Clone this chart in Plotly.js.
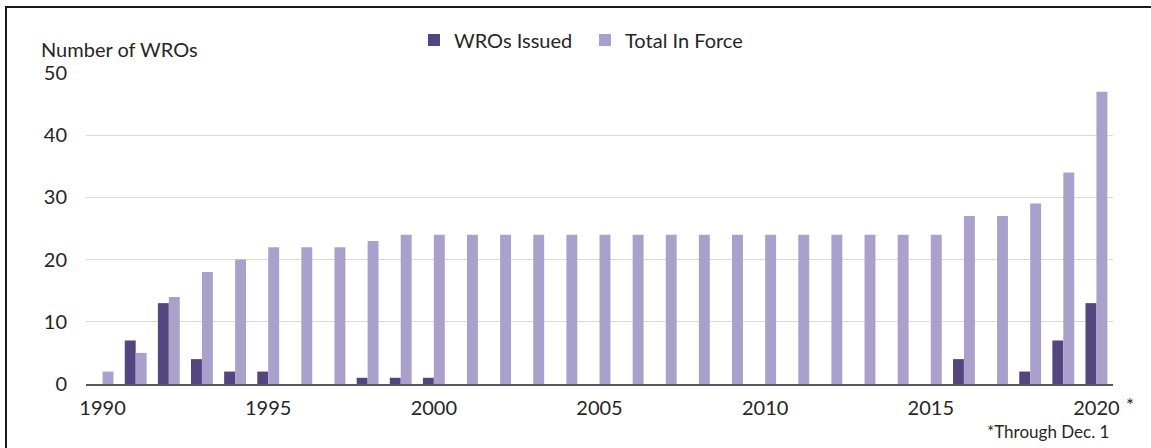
<!DOCTYPE html>
<html>
<head>
<meta charset="utf-8">
<script src="https://cdn.plot.ly/plotly-3.0.1.min.js"></script>
<style>
  html, body { margin: 0; padding: 0; background: #fff; }
  #wrap { position: relative; width: 1151px; height: 448px; overflow: hidden; }
  #chart { position: absolute; left: 0; top: 0; width: 1151px; height: 448px; }
  #frame { position: absolute; left: 5px; top: 6px; width: 1160px; height: 460px;
           border-top: 2px solid #1a1a1a; border-left: 2px solid #1a1a1a; pointer-events: none; }
</style>
</head>
<body>
<div id="wrap">
  <div id="chart"></div>
  <div id="frame"></div>
</div>
<script>
const years = [1990,1991,1992,1993,1994,1995,1996,1997,1998,1999,2000,
               2001,2002,2003,2004,2005,2006,2007,2008,2009,2010,
               2011,2012,2013,2014,2015,2016,2017,2018,2019,2020];
const wrosIssued = [0,7,13,4,2,2,0,0,1,1,1,
                    0,0,0,0,0,0,0,0,0,0,
                    0,0,0,0,0,4,0,2,7,13];
const totalInForce = [2,5,14,18,20,22,22,22,23,24,24,
                      24,24,24,24,24,24,24,24,24,24,
                      24,24,24,24,24,27,27,29,34,47];
const tickYears = [1990,1995,2000,2005,2010,2015,2020];
const tickLabels = ['1990','1995','2000','2005','2010','2015','2020'];

const W = 1151, H = 448;
const M = {l: 86, r: 38, t: 73, b: 64};
const pw = W - M.l - M.r, ph = H - M.t - M.b;
const px = x => (x - M.l) / pw;
const py = y => (H - M.b - y) / ph;

const font = 'Lato, "Open Sans", sans-serif';
const txt = '#262626';

const data = [
  {type: 'bar', name: 'WROs Issued', x: years, y: wrosIssued,
   marker: {color: '#54457f'}},
  {type: 'bar', name: 'Total In Force', x: years, y: totalInForce,
   marker: {color: '#a9a1cc'}}
];

const layout = {
  width: W, height: H,
  margin: M,
  paper_bgcolor: '#fff', plot_bgcolor: '#fff',
  font: {family: font, size: 20, color: txt},
  barmode: 'group', bargap: 0.34, bargroupgap: 0,
  showlegend: true,
  legend: {orientation: 'h', x: px(414), y: py(40), xanchor: 'left', yanchor: 'middle',
           entrywidth: 126, entrywidthmode: 'pixels',
           font: {family: font, size: 20, color: txt}, bgcolor: 'rgba(0,0,0,0)'},
  xaxis: {range: [1989.5, 2020.5], tickmode: 'array', tickvals: tickYears, ticktext: tickLabels,
          showgrid: false, zeroline: false, showline: true, linecolor: '#595959', linewidth: 2,
          ticks: '', ticklabelstandoff: 5, fixedrange: true},
  yaxis: {range: [0, 50], tickvals: [0,10,20,30,40,50], showgrid: true, gridcolor: '#d9d9d9',
          gridwidth: 1, zeroline: false, showline: false, ticks: '', ticklabelstandoff: 18,
          fixedrange: true},
  annotations: [
    {text: 'Number of WROs', xref: 'paper', yref: 'paper', x: px(39), y: py(49),
     xanchor: 'left', yanchor: 'middle', showarrow: false, font: {family: font, size: 20, color: txt}},
    {text: '*', xref: 'paper', yref: 'paper', x: px(1130), y: py(404),
     xanchor: 'center', yanchor: 'middle', showarrow: false, font: {family: font, size: 19, color: txt}},
    {text: '*Through Dec. 1', xref: 'paper', yref: 'paper', x: px(1111), y: py(431),
     xanchor: 'right', yanchor: 'middle', showarrow: false, font: {family: font, size: 17, color: txt}}
  ]
};

Plotly.newPlot('chart', data, layout, {displayModeBar: false, staticPlot: true});
</script>
</body>
</html>
